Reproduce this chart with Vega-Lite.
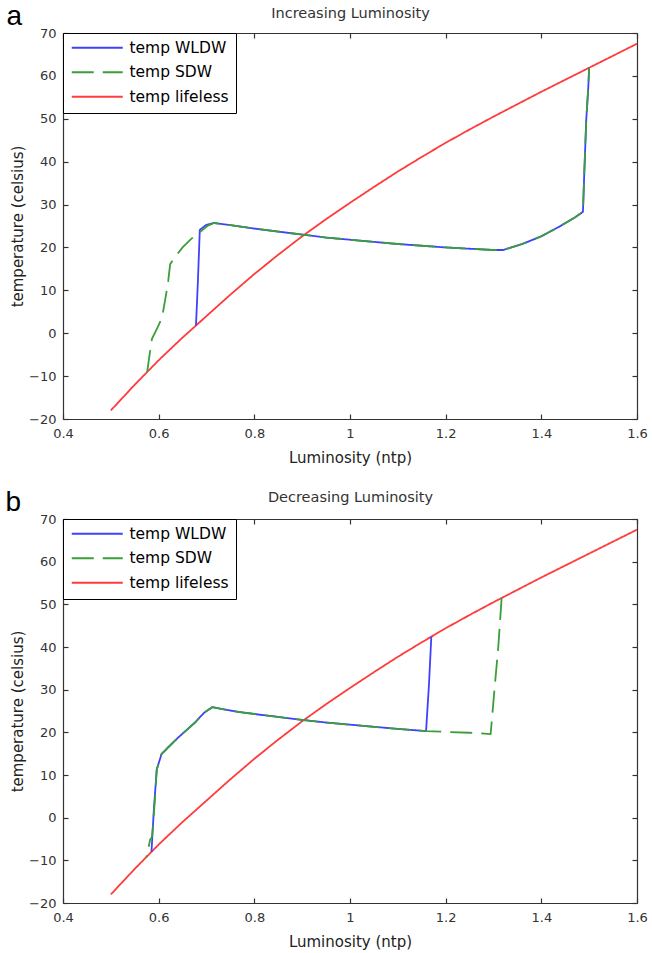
{
  "$schema": "https://vega.github.io/schema/vega-lite/v6.json",
  "background": "white",
  "padding": {"left": 5, "top": 2, "right": 12, "bottom": 2},
  "config": {
    "font": "DejaVu Sans",
    "view": {"stroke": null},
    "style": {"guide-title": {"fontWeight": "normal"}},
    "axis": {"grid": false, "domainColor": "#333", "domainWidth": 1.2, "tickColor": "#333", "tickWidth": 1.2, "tickSize": -5, "labelFontSize": 13, "labelColor": "#333", "labelFont": "DejaVu Sans", "titleFont": "DejaVu Sans", "titleFontSize": 15, "titleFontWeight": "normal", "titleColor": "#222", "labelFlush": false, "labelOverlap": false},
    "legend": {"orient": "top-left", "offset": 0, "title": null, "symbolType": "M-1.2,0H9", "symbolSize": 100, "symbolStrokeWidth": 1.8, "labelFontSize": 15.5, "labelOffset": 44, "labelColor": "black", "labelFont": "DejaVu Sans", "padding": 7, "rowPadding": 7.5, "strokeColor": "black", "fillColor": "white", "cornerRadius": 0, "strokeWidth": 1}
  },
  "datasets": {
    "d": [
      {"p":"a","s":"temp lifeless","i":0,"L":0.50,"T":-18.0},
      {"p":"a","s":"temp lifeless","i":1,"L":0.55,"T":-12.0},
      {"p":"a","s":"temp lifeless","i":2,"L":0.60,"T":-6.3},
      {"p":"a","s":"temp lifeless","i":3,"L":0.65,"T":-1.0},
      {"p":"a","s":"temp lifeless","i":4,"L":0.70,"T":4.0},
      {"p":"a","s":"temp lifeless","i":5,"L":0.75,"T":9.0},
      {"p":"a","s":"temp lifeless","i":6,"L":0.80,"T":13.8},
      {"p":"a","s":"temp lifeless","i":7,"L":0.85,"T":18.3},
      {"p":"a","s":"temp lifeless","i":8,"L":0.90,"T":22.6},
      {"p":"a","s":"temp lifeless","i":9,"L":0.95,"T":26.6},
      {"p":"a","s":"temp lifeless","i":10,"L":1.00,"T":30.4},
      {"p":"a","s":"temp lifeless","i":11,"L":1.05,"T":34.1},
      {"p":"a","s":"temp lifeless","i":12,"L":1.10,"T":37.7},
      {"p":"a","s":"temp lifeless","i":13,"L":1.15,"T":41.1},
      {"p":"a","s":"temp lifeless","i":14,"L":1.20,"T":44.4},
      {"p":"a","s":"temp lifeless","i":15,"L":1.25,"T":47.5},
      {"p":"a","s":"temp lifeless","i":16,"L":1.30,"T":50.5},
      {"p":"a","s":"temp lifeless","i":17,"L":1.35,"T":53.4},
      {"p":"a","s":"temp lifeless","i":18,"L":1.40,"T":56.3},
      {"p":"a","s":"temp lifeless","i":19,"L":1.45,"T":59.1},
      {"p":"a","s":"temp lifeless","i":20,"L":1.50,"T":61.9},
      {"p":"a","s":"temp lifeless","i":21,"L":1.55,"T":64.7},
      {"p":"a","s":"temp lifeless","i":22,"L":1.60,"T":67.5},

      {"p":"a","s":"temp WLDW","i":0,"L":0.678,"T":1.8},
      {"p":"a","s":"temp WLDW","i":1,"L":0.682,"T":12.0},
      {"p":"a","s":"temp WLDW","i":2,"L":0.686,"T":24.1},
      {"p":"a","s":"temp WLDW","i":3,"L":0.700,"T":25.3},
      {"p":"a","s":"temp WLDW","i":4,"L":0.716,"T":25.7},
      {"p":"a","s":"temp WLDW","i":5,"L":0.75,"T":25.2},
      {"p":"a","s":"temp WLDW","i":6,"L":0.80,"T":24.4},
      {"p":"a","s":"temp WLDW","i":7,"L":0.85,"T":23.7},
      {"p":"a","s":"temp WLDW","i":8,"L":0.90,"T":23.0},
      {"p":"a","s":"temp WLDW","i":9,"L":0.95,"T":22.3},
      {"p":"a","s":"temp WLDW","i":10,"L":1.00,"T":21.8},
      {"p":"a","s":"temp WLDW","i":11,"L":1.05,"T":21.3},
      {"p":"a","s":"temp WLDW","i":12,"L":1.10,"T":20.8},
      {"p":"a","s":"temp WLDW","i":13,"L":1.15,"T":20.4},
      {"p":"a","s":"temp WLDW","i":14,"L":1.20,"T":20.0},
      {"p":"a","s":"temp WLDW","i":15,"L":1.25,"T":19.7},
      {"p":"a","s":"temp WLDW","i":16,"L":1.30,"T":19.4},
      {"p":"a","s":"temp WLDW","i":17,"L":1.32,"T":19.4},
      {"p":"a","s":"temp WLDW","i":18,"L":1.36,"T":20.8},
      {"p":"a","s":"temp WLDW","i":19,"L":1.40,"T":22.6},
      {"p":"a","s":"temp WLDW","i":20,"L":1.44,"T":25.0},
      {"p":"a","s":"temp WLDW","i":21,"L":1.47,"T":27.0},
      {"p":"a","s":"temp WLDW","i":22,"L":1.487,"T":28.3},
      {"p":"a","s":"temp WLDW","i":23,"L":1.490,"T":38.0},
      {"p":"a","s":"temp WLDW","i":24,"L":1.494,"T":50.0},
      {"p":"a","s":"temp WLDW","i":25,"L":1.498,"T":57.0},
      {"p":"a","s":"temp WLDW","i":26,"L":1.500,"T":61.9},

      {"p":"a","s":"temp SDW","i":0,"L":0.576,"T":-9.0},
      {"p":"a","s":"temp SDW","i":1,"L":0.581,"T":-5.0},
      {"p":"a","s":"temp SDW","i":2,"L":0.586,"T":-1.3},
      {"p":"a","s":"temp SDW","i":3,"L":0.597,"T":1.2},
      {"p":"a","s":"temp SDW","i":4,"L":0.607,"T":3.6},
      {"p":"a","s":"temp SDW","i":5,"L":0.615,"T":8.7},
      {"p":"a","s":"temp SDW","i":6,"L":0.620,"T":12.2},
      {"p":"a","s":"temp SDW","i":7,"L":0.624,"T":16.1},
      {"p":"a","s":"temp SDW","i":8,"L":0.636,"T":18.0},
      {"p":"a","s":"temp SDW","i":9,"L":0.650,"T":20.0},
      {"p":"a","s":"temp SDW","i":10,"L":0.668,"T":22.0},
      {"p":"a","s":"temp SDW","i":11,"L":0.689,"T":23.8},
      {"p":"a","s":"temp SDW","i":12,"L":0.703,"T":25.1},
      {"p":"a","s":"temp SDW","i":13,"L":0.716,"T":25.7},
      {"p":"a","s":"temp SDW","i":14,"L":0.75,"T":25.2},
      {"p":"a","s":"temp SDW","i":15,"L":0.80,"T":24.4},
      {"p":"a","s":"temp SDW","i":16,"L":0.85,"T":23.7},
      {"p":"a","s":"temp SDW","i":17,"L":0.90,"T":23.0},
      {"p":"a","s":"temp SDW","i":18,"L":0.95,"T":22.3},
      {"p":"a","s":"temp SDW","i":19,"L":1.00,"T":21.8},
      {"p":"a","s":"temp SDW","i":20,"L":1.05,"T":21.3},
      {"p":"a","s":"temp SDW","i":21,"L":1.10,"T":20.8},
      {"p":"a","s":"temp SDW","i":22,"L":1.15,"T":20.4},
      {"p":"a","s":"temp SDW","i":23,"L":1.20,"T":20.0},
      {"p":"a","s":"temp SDW","i":24,"L":1.25,"T":19.7},
      {"p":"a","s":"temp SDW","i":25,"L":1.30,"T":19.4},
      {"p":"a","s":"temp SDW","i":26,"L":1.32,"T":19.4},
      {"p":"a","s":"temp SDW","i":27,"L":1.36,"T":20.8},
      {"p":"a","s":"temp SDW","i":28,"L":1.40,"T":22.6},
      {"p":"a","s":"temp SDW","i":29,"L":1.44,"T":25.0},
      {"p":"a","s":"temp SDW","i":30,"L":1.47,"T":27.0},
      {"p":"a","s":"temp SDW","i":31,"L":1.487,"T":28.3},
      {"p":"a","s":"temp SDW","i":32,"L":1.490,"T":38.0},
      {"p":"a","s":"temp SDW","i":33,"L":1.494,"T":50.0},
      {"p":"a","s":"temp SDW","i":34,"L":1.498,"T":57.0},
      {"p":"a","s":"temp SDW","i":35,"L":1.500,"T":61.9},

      {"p":"b","s":"temp lifeless","i":0,"L":0.50,"T":-18.0},
      {"p":"b","s":"temp lifeless","i":1,"L":0.55,"T":-12.0},
      {"p":"b","s":"temp lifeless","i":2,"L":0.60,"T":-6.3},
      {"p":"b","s":"temp lifeless","i":3,"L":0.65,"T":-1.0},
      {"p":"b","s":"temp lifeless","i":4,"L":0.70,"T":4.0},
      {"p":"b","s":"temp lifeless","i":5,"L":0.75,"T":9.0},
      {"p":"b","s":"temp lifeless","i":6,"L":0.80,"T":13.8},
      {"p":"b","s":"temp lifeless","i":7,"L":0.85,"T":18.3},
      {"p":"b","s":"temp lifeless","i":8,"L":0.90,"T":22.6},
      {"p":"b","s":"temp lifeless","i":9,"L":0.95,"T":26.6},
      {"p":"b","s":"temp lifeless","i":10,"L":1.00,"T":30.4},
      {"p":"b","s":"temp lifeless","i":11,"L":1.05,"T":34.1},
      {"p":"b","s":"temp lifeless","i":12,"L":1.10,"T":37.7},
      {"p":"b","s":"temp lifeless","i":13,"L":1.15,"T":41.1},
      {"p":"b","s":"temp lifeless","i":14,"L":1.20,"T":44.4},
      {"p":"b","s":"temp lifeless","i":15,"L":1.25,"T":47.5},
      {"p":"b","s":"temp lifeless","i":16,"L":1.30,"T":50.5},
      {"p":"b","s":"temp lifeless","i":17,"L":1.35,"T":53.4},
      {"p":"b","s":"temp lifeless","i":18,"L":1.40,"T":56.3},
      {"p":"b","s":"temp lifeless","i":19,"L":1.45,"T":59.1},
      {"p":"b","s":"temp lifeless","i":20,"L":1.50,"T":61.9},
      {"p":"b","s":"temp lifeless","i":21,"L":1.55,"T":64.7},
      {"p":"b","s":"temp lifeless","i":22,"L":1.60,"T":67.5},

      {"p":"b","s":"temp WLDW","i":0,"L":1.170,"T":42.4},
      {"p":"b","s":"temp WLDW","i":1,"L":1.165,"T":31.0},
      {"p":"b","s":"temp WLDW","i":2,"L":1.159,"T":20.3},
      {"p":"b","s":"temp WLDW","i":3,"L":1.10,"T":20.8},
      {"p":"b","s":"temp WLDW","i":4,"L":1.05,"T":21.3},
      {"p":"b","s":"temp WLDW","i":5,"L":1.00,"T":21.8},
      {"p":"b","s":"temp WLDW","i":6,"L":0.95,"T":22.3},
      {"p":"b","s":"temp WLDW","i":7,"L":0.90,"T":22.9},
      {"p":"b","s":"temp WLDW","i":8,"L":0.85,"T":23.6},
      {"p":"b","s":"temp WLDW","i":9,"L":0.80,"T":24.3},
      {"p":"b","s":"temp WLDW","i":10,"L":0.766,"T":24.8},
      {"p":"b","s":"temp WLDW","i":11,"L":0.74,"T":25.3},
      {"p":"b","s":"temp WLDW","i":12,"L":0.712,"T":25.9},
      {"p":"b","s":"temp WLDW","i":13,"L":0.695,"T":24.6},
      {"p":"b","s":"temp WLDW","i":14,"L":0.676,"T":22.3},
      {"p":"b","s":"temp WLDW","i":15,"L":0.660,"T":20.7},
      {"p":"b","s":"temp WLDW","i":16,"L":0.641,"T":18.8},
      {"p":"b","s":"temp WLDW","i":17,"L":0.620,"T":16.5},
      {"p":"b","s":"temp WLDW","i":18,"L":0.606,"T":14.9},
      {"p":"b","s":"temp WLDW","i":19,"L":0.596,"T":11.3},
      {"p":"b","s":"temp WLDW","i":20,"L":0.590,"T":2.0},
      {"p":"b","s":"temp WLDW","i":21,"L":0.585,"T":-8.0},

      {"p":"b","s":"temp SDW","i":0,"L":1.317,"T":51.5},
      {"p":"b","s":"temp SDW","i":1,"L":1.310,"T":40.0},
      {"p":"b","s":"temp SDW","i":2,"L":1.302,"T":30.0},
      {"p":"b","s":"temp SDW","i":3,"L":1.294,"T":19.6},
      {"p":"b","s":"temp SDW","i":4,"L":1.25,"T":19.9},
      {"p":"b","s":"temp SDW","i":5,"L":1.20,"T":20.1},
      {"p":"b","s":"temp SDW","i":6,"L":1.159,"T":20.3},
      {"p":"b","s":"temp SDW","i":7,"L":1.10,"T":20.8},
      {"p":"b","s":"temp SDW","i":8,"L":1.05,"T":21.3},
      {"p":"b","s":"temp SDW","i":9,"L":1.00,"T":21.8},
      {"p":"b","s":"temp SDW","i":10,"L":0.95,"T":22.3},
      {"p":"b","s":"temp SDW","i":11,"L":0.90,"T":22.9},
      {"p":"b","s":"temp SDW","i":12,"L":0.85,"T":23.6},
      {"p":"b","s":"temp SDW","i":13,"L":0.80,"T":24.3},
      {"p":"b","s":"temp SDW","i":14,"L":0.766,"T":24.8},
      {"p":"b","s":"temp SDW","i":15,"L":0.74,"T":25.3},
      {"p":"b","s":"temp SDW","i":16,"L":0.712,"T":25.9},
      {"p":"b","s":"temp SDW","i":17,"L":0.695,"T":24.6},
      {"p":"b","s":"temp SDW","i":18,"L":0.676,"T":22.3},
      {"p":"b","s":"temp SDW","i":19,"L":0.660,"T":20.7},
      {"p":"b","s":"temp SDW","i":20,"L":0.641,"T":18.8},
      {"p":"b","s":"temp SDW","i":21,"L":0.620,"T":16.5},
      {"p":"b","s":"temp SDW","i":22,"L":0.606,"T":14.9},
      {"p":"b","s":"temp SDW","i":23,"L":0.596,"T":11.3},
      {"p":"b","s":"temp SDW","i":24,"L":0.592,"T":4.0},
      {"p":"b","s":"temp SDW","i":25,"L":0.588,"T":-2.0},
      {"p":"b","s":"temp SDW","i":26,"L":0.586,"T":-4.5},
      {"p":"b","s":"temp SDW","i":27,"L":0.582,"T":-5.2},
      {"p":"b","s":"temp SDW","i":28,"L":0.578,"T":-7.5},
      {"p":"b","s":"temp SDW","i":29,"L":0.574,"T":-9.3}
    ]
  },
  "resolve": {
    "scale": {"color": "independent", "strokeDash": "independent"},
    "legend": {"color": "independent", "strokeDash": "independent"}
  },
  "bounds": "flush",
  "spacing": 100,
  "vconcat": [
    {
      "width": 574,
      "height": 386,
      "encoding": {
        "x": {"field": "L", "type": "quantitative", "scale": {"domain": [0.4, 1.6], "nice": false, "zero": false}, "axis": null},
        "y": {"field": "T", "type": "quantitative", "scale": {"domain": [-20, 70], "nice": false, "zero": false}, "axis": null}
      },
      "layer": [
        {
          "data": {"name": "d"},
          "transform": [{"filter": "datum.p == 'a' && datum.s == 'temp lifeless'"}],
          "mark": {"type": "line", "strokeWidth": 1.8},
          "encoding": {
            "order": {"field": "i", "type": "quantitative"},
            "color": {"field": "s", "type": "nominal", "scale": {"domain": ["temp WLDW", "temp SDW", "temp lifeless"], "range": ["#4040ff", "#3a9e3a", "#ff3b3b"]}},
            "strokeDash": {"field": "s", "type": "nominal", "scale": {"domain": ["temp WLDW", "temp SDW", "temp lifeless"], "range": [[1, 0], [22, 9], [1, 0]]}}
          }
        },
        {
          "data": {"name": "d"},
          "transform": [{"filter": "datum.p == 'a' && datum.s == 'temp WLDW'"}],
          "mark": {"type": "line", "strokeWidth": 1.8},
          "encoding": {
            "order": {"field": "i", "type": "quantitative"},
            "color": {"field": "s", "type": "nominal", "scale": {"domain": ["temp WLDW", "temp SDW", "temp lifeless"], "range": ["#4040ff", "#3a9e3a", "#ff3b3b"]}},
            "strokeDash": {"field": "s", "type": "nominal", "scale": {"domain": ["temp WLDW", "temp SDW", "temp lifeless"], "range": [[1, 0], [22, 9], [1, 0]]}}
          }
        },
        {
          "data": {"name": "d"},
          "transform": [{"filter": "datum.p == 'a' && datum.s == 'temp SDW'"}],
          "mark": {"type": "line", "strokeWidth": 1.8},
          "encoding": {
            "order": {"field": "i", "type": "quantitative"},
            "color": {"field": "s", "type": "nominal", "scale": {"domain": ["temp WLDW", "temp SDW", "temp lifeless"], "range": ["#4040ff", "#3a9e3a", "#ff3b3b"]}},
            "strokeDash": {"field": "s", "type": "nominal", "scale": {"domain": ["temp WLDW", "temp SDW", "temp lifeless"], "range": [[1, 0], [22, 9], [1, 0]]}}
          }
        },
        {
          "data": {"name": "d"},
          "transform": [{"filter": "datum.p == 'a' && datum.s == 'temp lifeless'"}],
          "mark": {"type": "line", "strokeOpacity": 0},
          "encoding": {
            "order": {"field": "i", "type": "quantitative"},
            "x": {"field": "L", "type": "quantitative", "axis": {"orient": "bottom", "values": [0.4, 0.6, 0.8, 1, 1.2, 1.4, 1.6], "format": "~g", "title": "Luminosity (ntp)", "labelPadding": 13, "titlePadding": 10}},
            "y": {"field": "T", "type": "quantitative", "axis": {"orient": "left", "values": [-20, -10, 0, 10, 20, 30, 40, 50, 60, 70], "format": "d", "title": "temperature (celsius)", "labelPadding": 12, "titlePadding": 3}}
          }
        },
        {
          "data": {"name": "d"},
          "transform": [{"filter": "datum.p == 'a' && datum.s == 'temp lifeless'"}],
          "mark": {"type": "line", "strokeOpacity": 0},
          "encoding": {
            "order": {"field": "i", "type": "quantitative"},
            "x": {"field": "L", "type": "quantitative", "axis": {"orient": "top", "values": [0.4, 0.6, 0.8, 1, 1.2, 1.4, 1.6], "labels": false, "title": "Increasing Luminosity", "titleFontSize": 14.5, "titleColor": "#333", "titlePadding": 12}},
            "y": {"field": "T", "type": "quantitative", "axis": {"orient": "right", "values": [-20, -10, 0, 10, 20, 30, 40, 50, 60, 70], "labels": false, "title": "a", "titleFont": "Liberation Sans", "titleFontSize": 28, "titleColor": "black", "titleAngle": 0, "titleAlign": "left", "titleBaseline": "alphabetic", "titleX": -631, "titleY": -9}}
          }
        }
      ]
    },
    {
      "width": 574,
      "height": 384,
      "encoding": {
        "x": {"field": "L", "type": "quantitative", "scale": {"domain": [0.4, 1.6], "nice": false, "zero": false}, "axis": null},
        "y": {"field": "T", "type": "quantitative", "scale": {"domain": [-20, 70], "nice": false, "zero": false}, "axis": null}
      },
      "layer": [
        {
          "data": {"name": "d"},
          "transform": [{"filter": "datum.p == 'b' && datum.s == 'temp lifeless'"}],
          "mark": {"type": "line", "strokeWidth": 1.8},
          "encoding": {
            "order": {"field": "i", "type": "quantitative"},
            "color": {"field": "s", "type": "nominal", "scale": {"domain": ["temp WLDW", "temp SDW", "temp lifeless"], "range": ["#4040ff", "#3a9e3a", "#ff3b3b"]}},
            "strokeDash": {"field": "s", "type": "nominal", "scale": {"domain": ["temp WLDW", "temp SDW", "temp lifeless"], "range": [[1, 0], [22, 9], [1, 0]]}}
          }
        },
        {
          "data": {"name": "d"},
          "transform": [{"filter": "datum.p == 'b' && datum.s == 'temp WLDW'"}],
          "mark": {"type": "line", "strokeWidth": 1.8},
          "encoding": {
            "order": {"field": "i", "type": "quantitative"},
            "color": {"field": "s", "type": "nominal", "scale": {"domain": ["temp WLDW", "temp SDW", "temp lifeless"], "range": ["#4040ff", "#3a9e3a", "#ff3b3b"]}},
            "strokeDash": {"field": "s", "type": "nominal", "scale": {"domain": ["temp WLDW", "temp SDW", "temp lifeless"], "range": [[1, 0], [22, 9], [1, 0]]}}
          }
        },
        {
          "data": {"name": "d"},
          "transform": [{"filter": "datum.p == 'b' && datum.s == 'temp SDW'"}],
          "mark": {"type": "line", "strokeWidth": 1.8},
          "encoding": {
            "order": {"field": "i", "type": "quantitative"},
            "color": {"field": "s", "type": "nominal", "scale": {"domain": ["temp WLDW", "temp SDW", "temp lifeless"], "range": ["#4040ff", "#3a9e3a", "#ff3b3b"]}},
            "strokeDash": {"field": "s", "type": "nominal", "scale": {"domain": ["temp WLDW", "temp SDW", "temp lifeless"], "range": [[1, 0], [22, 9], [1, 0]]}}
          }
        },
        {
          "data": {"name": "d"},
          "transform": [{"filter": "datum.p == 'b' && datum.s == 'temp lifeless'"}],
          "mark": {"type": "line", "strokeOpacity": 0},
          "encoding": {
            "order": {"field": "i", "type": "quantitative"},
            "x": {"field": "L", "type": "quantitative", "axis": {"orient": "bottom", "values": [0.4, 0.6, 0.8, 1, 1.2, 1.4, 1.6], "format": "~g", "title": "Luminosity (ntp)", "labelPadding": 13, "titlePadding": 10}},
            "y": {"field": "T", "type": "quantitative", "axis": {"orient": "left", "values": [-20, -10, 0, 10, 20, 30, 40, 50, 60, 70], "format": "d", "title": "temperature (celsius)", "labelPadding": 12, "titlePadding": 3}}
          }
        },
        {
          "data": {"name": "d"},
          "transform": [{"filter": "datum.p == 'b' && datum.s == 'temp lifeless'"}],
          "mark": {"type": "line", "strokeOpacity": 0},
          "encoding": {
            "order": {"field": "i", "type": "quantitative"},
            "x": {"field": "L", "type": "quantitative", "axis": {"orient": "top", "values": [0.4, 0.6, 0.8, 1, 1.2, 1.4, 1.6], "labels": false, "title": "Decreasing Luminosity", "titleFontSize": 14.5, "titleColor": "#333", "titlePadding": 14}},
            "y": {"field": "T", "type": "quantitative", "axis": {"orient": "right", "values": [-20, -10, 0, 10, 20, 30, 40, 50, 60, 70], "labels": false, "title": "b", "titleFont": "Liberation Sans", "titleFontSize": 28, "titleColor": "black", "titleAngle": 0, "titleAlign": "left", "titleBaseline": "alphabetic", "titleX": -632, "titleY": -9}}
          }
        }
      ]
    }
  ]
}
